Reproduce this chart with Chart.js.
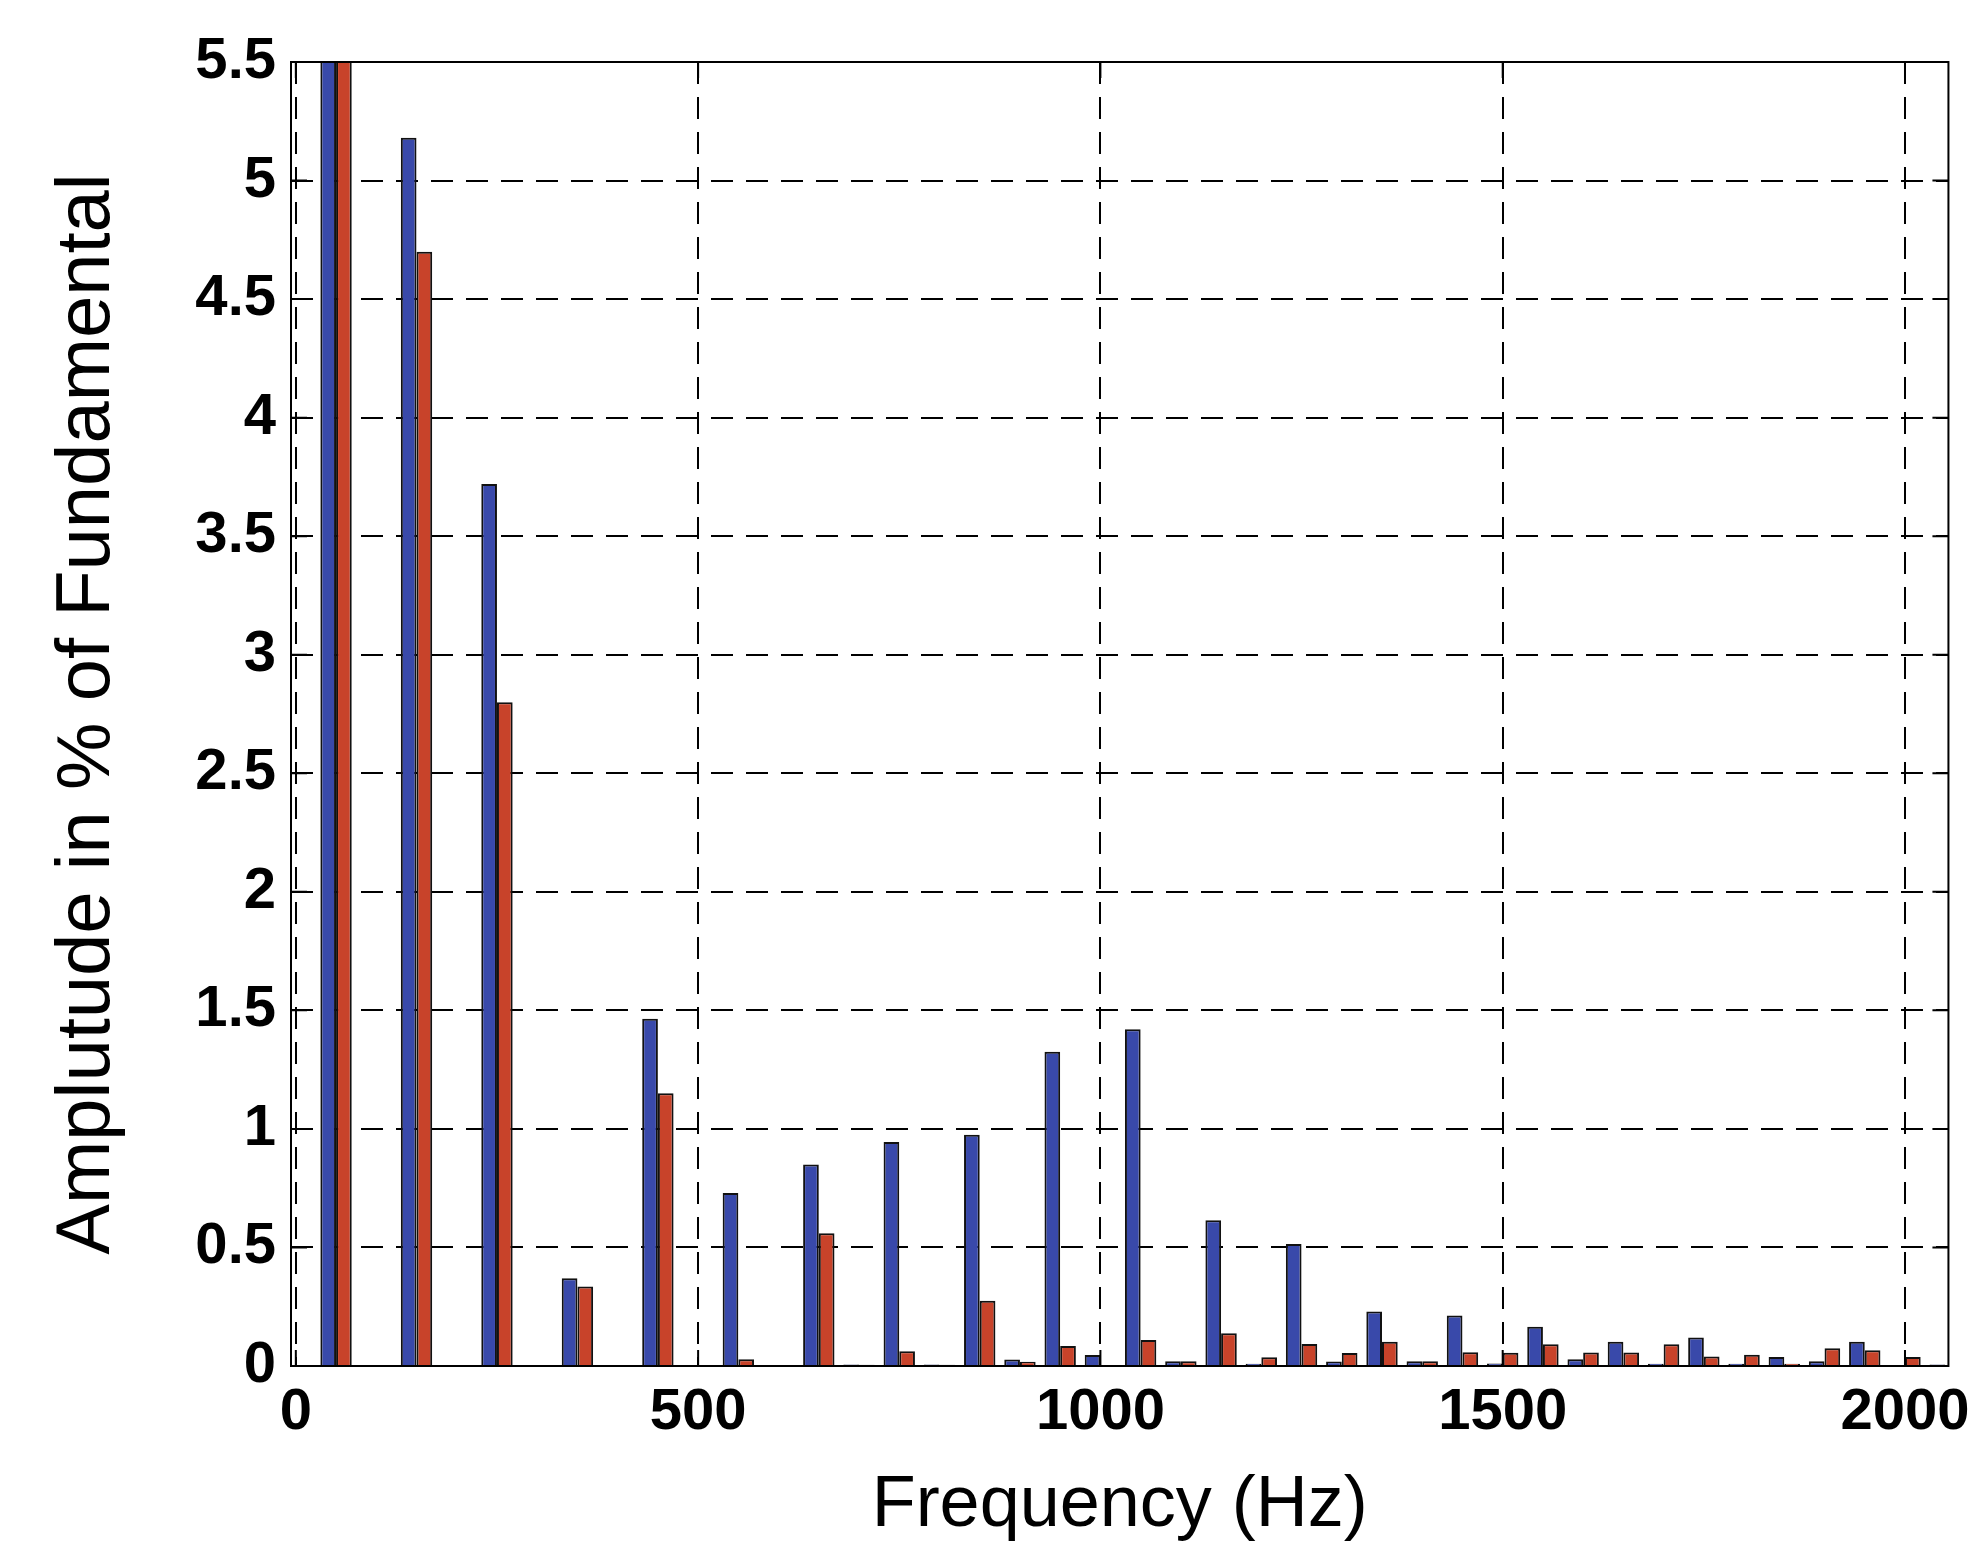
<!DOCTYPE html>
<html lang="en">
<head>
  <meta charset="UTF-8" />
  <title>Harmonic Spectrum</title>
  <script src="https://cdn.jsdelivr.net/npm/chart.js"></script>
  <style>
    html, body { margin: 0; padding: 0; background: #fff; }
    #wrap { width: 1982px; height: 1549px; }
  </style>
</head>
<body>
  <div id="wrap"><canvas id="spectrum"></canvas></div>

  <script>
    // harmonic frequencies (Hz), one group every 50 Hz
    const frequencies = [
      50, 100, 150, 200, 250, 300, 350, 400, 450, 500,
      550, 600, 650, 700, 750, 800, 850, 900, 950, 1000,
      1050, 1100, 1150, 1200, 1250, 1300, 1350, 1400, 1450, 1500,
      1550, 1600, 1650, 1700, 1750, 1800, 1850, 1900, 1950, 2000, 2050
    ];

    // amplitude in % of fundamental (fundamental = 100, clipped by the axis)
    const ampBlue = [
      100, 0, 5.18, 0, 3.72, 0, 0.37, 0, 1.465, 0,
      0.73, 0, 0.85, 0.006, 0.945, 0.006, 0.975, 0.027, 1.325, 0.046,
      1.42, 0.02, 0.615, 0.01, 0.515, 0.019, 0.23, 0.02, 0.213, 0.011,
      0.166, 0.028, 0.102, 0.01, 0.12, 0.01, 0.038, 0.02, 0.102, 0, 0.006
    ];
    const ampRed = [
      100, 0, 4.70, 0, 2.80, 0, 0.335, 0, 1.15, 0,
      0.028, 0, 0.56, 0.005, 0.062, 0.005, 0.275, 0.018, 0.084, 0,
      0.11, 0.02, 0.138, 0.037, 0.093, 0.055, 0.102, 0.02, 0.058, 0.056,
      0.092, 0.057, 0.057, 0.092, 0.04, 0.047, 0.01, 0.075, 0.066, 0.038, 0
    ];

    const xTicks = [0, 500, 1000, 1500, 2000];
    const xTickLabels = ['0', '500', '1000', '1500', '2000'];
    const yTicks = [0, 0.5, 1, 1.5, 2, 2.5, 3, 3.5, 4, 4.5, 5, 5.5];
    const yTickLabels = ['0', '0.5', '1', '1.5', '2', '2.5', '3', '3.5', '4', '4.5', '5', '5.5'];

    Chart.defaults.font.family = "'Liberation Sans', Arial, Helvetica, sans-serif";
    Chart.defaults.color = '#000';

    // box around the plot plus inward tick marks, like the original figure
    const framePlugin = {
      id: 'frame',
      afterDraw(chart) {
        const { ctx, chartArea: a, scales } = chart;
        const len = 16;
        ctx.save();
        ctx.setLineDash([]);
        ctx.strokeStyle = '#000';
        ctx.lineWidth = 2;
        ctx.strokeRect(a.left, a.top, a.right - a.left, a.bottom - a.top);
        ctx.beginPath();
        yTicks.forEach(v => {
          const y = scales.y.getPixelForValue(v);
          ctx.moveTo(a.left, y); ctx.lineTo(a.left + len, y);
          ctx.moveTo(a.right, y); ctx.lineTo(a.right - len, y);
        });
        xTicks.forEach(v => {
          const x = scales.x.getPixelForValue(v);
          ctx.moveTo(x, a.bottom); ctx.lineTo(x, a.bottom - len);
          ctx.moveTo(x, a.top); ctx.lineTo(x, a.top + len);
        });
        ctx.stroke();
        ctx.restore();
      }
    };

    const toPoints = values => frequencies.map((f, i) => ({ x: f, y: values[i] }));

    new Chart(document.getElementById('spectrum'), {
      type: 'bar',
      data: {
        datasets: [
          {
            label: 'Series 1',
            data: toPoints(ampBlue),
            backgroundColor: '#3949aa',
            borderColor: '#111',
            borderWidth: 2,
            clip: 0
          },
          {
            label: 'Series 2',
            data: toPoints(ampRed),
            backgroundColor: '#c8432a',
            borderColor: '#111',
            borderWidth: 2,
            clip: 0
          }
        ]
      },
      options: {
        responsive: true,
        maintainAspectRatio: false,
        animation: false,
        devicePixelRatio: 1,
        categoryPercentage: 0.78,
        barPercentage: 1.0,
        layout: { padding: { top: 62, right: 19, left: 0, bottom: 0 } },
        plugins: {
          legend: { display: false },
          tooltip: { enabled: false }
        },
        scales: {
          x: {
            type: 'linear',
            min: -6,
            max: 2054,
            offset: false,
            afterBuildTicks: s => { s.ticks = xTicks.map(v => ({ value: v })); },
            afterFit: s => { s.height = 183; },
            grid: { offset: false, color: '#000', lineWidth: 2, drawTicks: false },
            border: { display: false, dash: [22, 13] },
            ticks: {
              padding: 12,
              maxRotation: 0,
              font: { size: 58, weight: 'bold' },
              callback: (value, index) => xTickLabels[index]
            },
            title: {
              display: true,
              text: 'Frequency (Hz)',
              font: { size: 72 },
              padding: { top: 0, bottom: 0 }
            }
          },
          y: {
            min: 0,
            max: 5.5,
            afterBuildTicks: s => { s.ticks = yTicks.map(v => ({ value: v })); },
            afterFit: s => { s.width = 291; },
            grid: { color: '#000', lineWidth: 2, drawTicks: false },
            border: { display: false, dash: [22, 13] },
            ticks: {
              padding: 15,
              font: { size: 58, weight: 'bold' },
              callback: (value, index) => yTickLabels[index]
            },
            title: {
              display: true,
              text: 'Amplutude in % of Fundamental',
              font: { size: 76 },
              padding: { top: 42, bottom: 0 }
            }
          }
        }
      },
      plugins: [framePlugin]
    });
  </script>
</body>
</html>
